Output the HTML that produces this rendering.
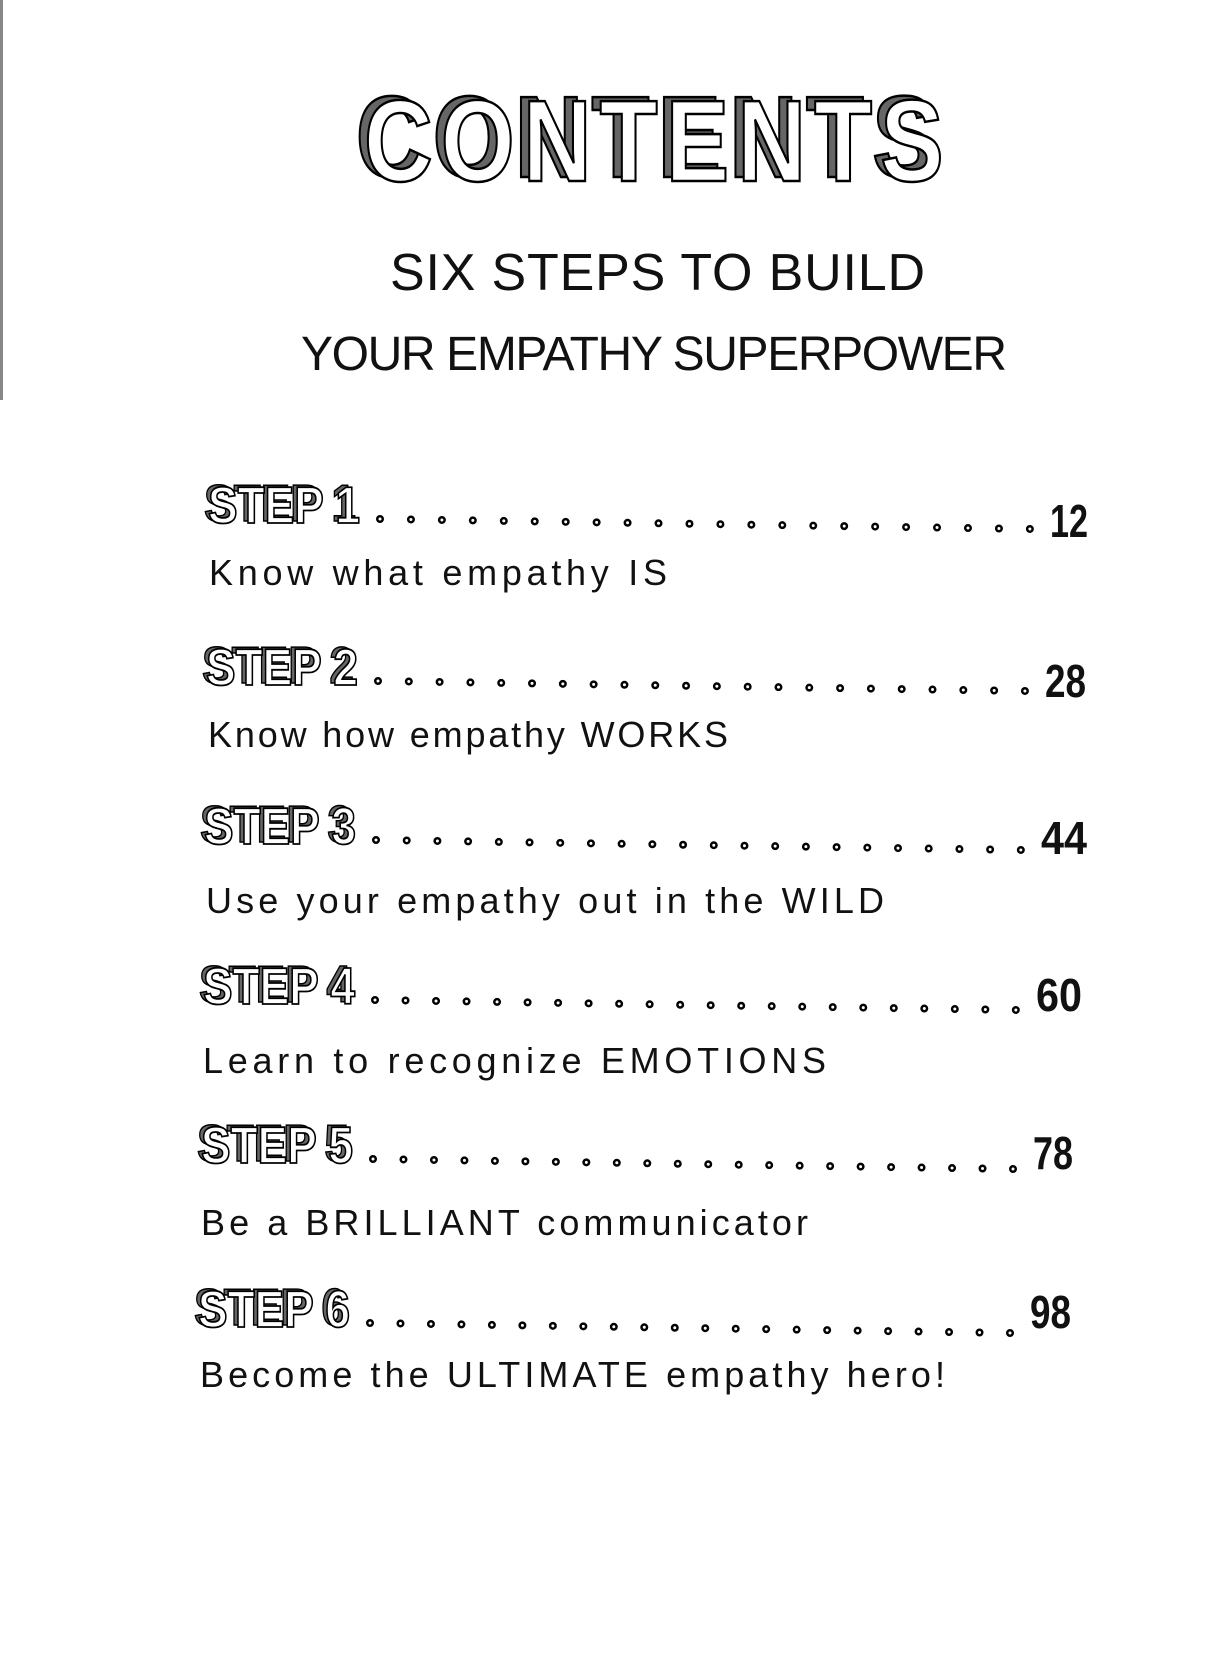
<!DOCTYPE html>
<html><head><meta charset="utf-8">
<style>
html,body{margin:0;padding:0;background:#fff;}
svg{display:block;}
.lab{font-family:"Liberation Sans",sans-serif;font-weight:bold;}
.sub{font-family:"Liberation Sans",sans-serif;}
</style></head>
<body>
<svg width="1224" height="1664" viewBox="0 0 1224 1664" xmlns="http://www.w3.org/2000/svg">
<rect x="0" y="0" width="1224" height="1664" fill="#fff"/>
<rect x="0" y="0" width="3" height="400" fill="#888"/>
<!-- CONTENTS -->
<g transform="translate(364,0) scale(0.82,1)">
<text x="-10" y="177" font-family="Liberation Sans, sans-serif" font-weight="bold" font-size="116" textLength="707" lengthAdjust="spacing" fill="#666" stroke="#000" stroke-width="2.5">CONTENTS</text>
<text x="0" y="181" font-family="Liberation Sans, sans-serif" font-weight="bold" font-size="116" textLength="707" lengthAdjust="spacing" fill="#fff" stroke="#000" stroke-width="2.5">CONTENTS</text>
</g>
<!-- subtitle -->
<text x="390" y="290" class="sub" font-size="52" textLength="535" lengthAdjust="spacing" fill="#111">SIX STEPS TO BUILD</text>
<text x="301" y="370" class="sub" font-size="48" textLength="706" lengthAdjust="spacing" fill="#111">YOUR EMPATHY SUPERPOWER</text>

<g fill="none" stroke-linecap="round">
<g stroke="#000" stroke-width="8">
<line x1="380" y1="519" x2="1031" y2="529" stroke-dasharray="0 30.95"/>
<line x1="378" y1="681" x2="1026" y2="691" stroke-dasharray="0 30.81"/>
<line x1="376" y1="840" x2="1022" y2="850" stroke-dasharray="0 30.71"/>
<line x1="375" y1="1000" x2="1017" y2="1010" stroke-dasharray="0 30.52"/>
<line x1="373" y1="1159" x2="1014" y2="1169" stroke-dasharray="0 30.48"/>
<line x1="370" y1="1323" x2="1011" y2="1333" stroke-dasharray="0 30.48"/>
</g>
<g stroke="#fff" stroke-width="3">
<line x1="380" y1="519" x2="1031" y2="529" stroke-dasharray="0 30.95"/>
<line x1="378" y1="681" x2="1026" y2="691" stroke-dasharray="0 30.81"/>
<line x1="376" y1="840" x2="1022" y2="850" stroke-dasharray="0 30.71"/>
<line x1="375" y1="1000" x2="1017" y2="1010" stroke-dasharray="0 30.52"/>
<line x1="373" y1="1159" x2="1014" y2="1169" stroke-dasharray="0 30.48"/>
<line x1="370" y1="1323" x2="1011" y2="1333" stroke-dasharray="0 30.48"/>
</g>
</g>

<g class="lab" font-size="52">
<g fill="#666" stroke="#000" stroke-width="1.5">
<text x="204" y="521" textLength="152" lengthAdjust="spacingAndGlyphs">STEP 1</text>
<text x="202" y="683" textLength="152" lengthAdjust="spacingAndGlyphs">STEP 2</text>
<text x="200" y="842" textLength="152" lengthAdjust="spacingAndGlyphs">STEP 3</text>
<text x="199" y="1002" textLength="152" lengthAdjust="spacingAndGlyphs">STEP 4</text>
<text x="197" y="1161" textLength="152" lengthAdjust="spacingAndGlyphs">STEP 5</text>
<text x="194" y="1325" textLength="152" lengthAdjust="spacingAndGlyphs">STEP 6</text>
</g>
<g fill="#fff" stroke="#000" stroke-width="1.8">
<text x="208" y="523" textLength="152" lengthAdjust="spacingAndGlyphs">STEP 1</text>
<text x="206" y="685" textLength="152" lengthAdjust="spacingAndGlyphs">STEP 2</text>
<text x="204" y="844" textLength="152" lengthAdjust="spacingAndGlyphs">STEP 3</text>
<text x="203" y="1004" textLength="152" lengthAdjust="spacingAndGlyphs">STEP 4</text>
<text x="201" y="1163" textLength="152" lengthAdjust="spacingAndGlyphs">STEP 5</text>
<text x="198" y="1327" textLength="152" lengthAdjust="spacingAndGlyphs">STEP 6</text>
</g>
</g>

<g class="lab" font-size="46" fill="#111">
<text x="1050" y="537" textLength="38" lengthAdjust="spacingAndGlyphs">12</text>
<text x="1045" y="697" textLength="41" lengthAdjust="spacingAndGlyphs">28</text>
<text x="1041" y="854" textLength="46" lengthAdjust="spacingAndGlyphs">44</text>
<text x="1036" y="1011" textLength="46" lengthAdjust="spacingAndGlyphs">60</text>
<text x="1033" y="1169" textLength="40" lengthAdjust="spacingAndGlyphs">78</text>
<text x="1030" y="1328" textLength="41" lengthAdjust="spacingAndGlyphs">98</text>
</g>

<g class="sub" font-size="36" fill="#111">
<text x="209" y="585" textLength="458" lengthAdjust="spacing">Know what empathy IS</text>
<text x="208" y="747" textLength="520" lengthAdjust="spacing">Know how empathy WORKS</text>
<text x="206" y="913" textLength="678" lengthAdjust="spacing">Use your empathy out in the WILD</text>
<text x="203" y="1073" textLength="623" lengthAdjust="spacing">Learn to recognize EMOTIONS</text>
<text x="201" y="1235" textLength="607" lengthAdjust="spacing">Be a BRILLIANT communicator</text>
<text x="200" y="1387" textLength="745" lengthAdjust="spacing">Become the ULTIMATE empathy hero!</text>
</g>
</svg>
</body></html>
